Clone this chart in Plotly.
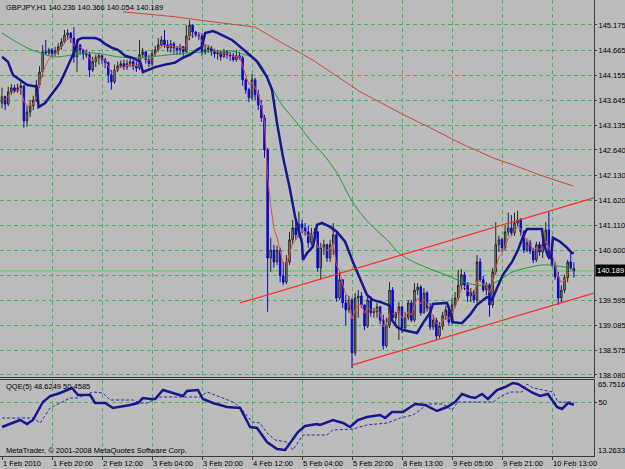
import plotly.graph_objects as go
import pandas as pd

# ---------------- data ----------------
symbol_title = "GBPJPY,H1 140.236 140.366 140.054 140.189"
first_open = 143.59
close = [143.72,143.57,143.82,143.90,143.84,143.90,143.94,143.23,143.41,143.53,
         143.65,143.96,144.22,144.63,144.61,144.67,144.59,144.65,144.73,144.83,
         144.97,145.01,144.91,144.53,144.77,144.67,144.59,144.57,144.26,144.43,
         144.51,144.55,144.47,144.41,144.16,144.02,144.26,144.34,144.39,144.32,
         144.39,144.43,144.34,144.30,144.57,144.63,144.47,144.39,144.59,144.67,
         144.77,144.87,144.77,144.71,144.79,144.71,144.67,144.73,144.63,144.95,
         145.17,145.03,144.97,144.95,144.63,144.67,144.71,144.65,144.59,144.61,
         144.53,144.63,144.57,144.55,144.47,144.55,144.51,144.06,143.86,143.70,
         144.06,143.76,143.55,143.29,142.64,140.45,140.61,140.37,140.61,140.09,
         139.96,140.37,140.82,141.06,140.92,141.14,141.06,140.98,140.76,140.94,
         140.98,140.25,140.66,140.72,140.45,140.72,140.92,139.64,140.01,139.54,
         139.40,139.60,138.53,139.64,139.68,139.50,139.07,139.60,139.34,139.36,
         139.46,139.19,138.67,139.09,139.80,139.24,139.34,139.46,139.03,139.24,
         139.54,139.19,139.80,139.86,139.34,139.74,139.44,139.05,139.19,138.87,
         139.07,139.28,139.40,139.15,139.50,139.64,139.90,140.11,139.90,139.68,
         139.76,139.60,140.37,140.01,139.80,139.90,139.50,140.17,140.72,140.82,
         140.66,140.98,141.06,140.96,141.16,141.22,140.98,140.61,140.76,140.59,
         140.41,140.72,140.57,140.72,141.02,140.45,140.31,140.07,139.64,139.80,
         140.05,140.37,140.236,140.189]
high = [143.90,143.74,143.92,143.98,143.96,143.98,144.02,143.94,143.53,143.65,
        143.74,144.06,144.34,144.77,144.87,144.71,144.71,144.73,144.81,144.91,
        145.07,145.09,145.03,145.13,144.87,144.79,144.69,144.67,144.63,144.53,
        144.57,144.61,144.57,144.51,144.43,144.26,144.37,144.43,144.45,144.47,
        144.47,144.51,144.47,144.43,144.87,144.71,144.65,144.57,144.67,144.75,
        144.91,144.95,145.07,144.87,144.87,144.83,144.75,144.79,144.75,145.17,
        145.27,145.19,145.05,145.03,145.01,144.79,144.77,144.75,144.69,144.67,
        144.65,144.69,144.65,144.63,144.61,144.67,144.63,144.55,144.10,143.90,
        144.18,144.10,143.86,143.65,143.35,142.68,140.86,140.72,140.70,140.66,
        140.37,140.51,140.98,141.22,141.18,141.39,141.22,141.16,141.10,141.06,
        141.06,141.00,140.76,140.82,140.74,140.82,141.16,140.98,140.17,140.01,
        139.70,139.68,139.64,139.74,139.80,139.76,139.50,139.68,139.68,139.44,
        139.54,139.48,139.30,139.24,139.96,139.86,139.36,139.56,139.48,139.36,
        139.60,139.60,139.94,139.94,139.90,139.84,139.78,139.54,139.30,139.24,
        139.15,139.36,139.48,139.48,139.64,139.76,140.21,140.23,140.17,139.96,
        139.84,139.80,140.51,140.45,140.09,139.96,139.94,140.25,141.18,140.90,
        140.86,141.10,141.37,141.32,141.37,141.41,141.26,141.02,140.84,140.82,
        140.66,140.78,140.78,140.82,141.18,141.39,140.57,140.37,140.17,139.90,
        140.11,140.41,140.57,140.366]
low = [143.49,143.45,143.53,143.76,143.80,143.80,143.76,143.09,143.11,143.31,
       143.45,143.61,143.90,144.12,144.57,144.55,144.53,144.55,144.57,144.67,
       144.79,144.87,144.81,144.41,144.22,144.57,144.47,144.51,144.12,144.22,
       144.32,144.37,144.39,144.30,144.00,143.86,143.98,144.22,144.30,144.26,
       144.26,144.32,144.26,144.22,144.26,144.51,144.39,144.32,144.34,144.53,
       144.63,144.73,144.71,144.63,144.61,144.59,144.57,144.57,144.55,144.61,
       144.87,144.91,144.93,144.87,144.55,144.57,144.61,144.55,144.51,144.47,
       144.45,144.51,144.49,144.45,144.43,144.43,144.47,143.94,143.78,143.61,
       143.65,143.65,143.45,143.21,142.48,139.36,140.17,140.25,140.31,139.96,
       139.90,139.92,140.31,140.72,140.82,140.86,140.96,140.90,140.66,140.70,
       140.82,140.17,140.01,140.51,140.37,140.37,140.51,139.56,139.60,139.44,
       139.09,139.34,138.22,138.47,139.24,139.44,138.99,139.03,139.26,139.24,
       139.24,139.11,138.59,138.63,139.03,139.15,139.07,138.79,138.93,138.99,
       139.19,139.15,139.15,139.70,139.28,139.32,139.36,138.99,138.99,138.79,
       138.83,138.99,139.19,139.09,139.11,139.44,139.60,139.80,139.80,139.56,
       139.56,139.54,139.54,139.96,139.76,139.70,139.26,139.44,140.11,140.57,
       140.57,140.61,140.90,140.90,140.90,141.10,140.90,140.55,140.57,140.53,
       140.35,140.37,140.49,140.45,140.66,140.41,140.27,140.01,139.50,139.54,
       139.74,139.96,140.21,140.054]
open_ = [first_open] + close[:-1]
bars = list(range(len(close)))

time_tick_bars = [0, 16, 32, 48, 64, 80, 96, 112, 128, 144, 160, 176]
time_tick_labels = ["1 Feb 2010", "1 Feb 20:00", "2 Feb 12:00", "3 Feb 04:00",
                    "3 Feb 20:00", "4 Feb 12:00", "5 Feb 04:00", "5 Feb 20:00",
                    "8 Feb 13:00", "9 Feb 05:00", "9 Feb 21:00", "10 Feb 13:00"]
grid_bars = time_tick_bars[1:]

price_ticks = [145.175, 144.665, 144.155, 143.645, 143.135, 142.640, 142.130,
               141.620, 141.110, 140.600, 140.105, 139.595, 139.085, 138.575, 138.080]
# the 140.105 label sits under the bid box in the reference, so it stays blank
price_tick_labels = ["145.175", "144.665", "144.155", "143.645", "143.135", "142.640",
                     "142.130", "141.620", "141.110", "140.600", "", "139.595",
                     "139.085", "138.575", "138.080"]
bid = 140.189

# thick blue smoothed line
blue_x = [0,1.9,3.5,5.8,8,11.2,11.7,13.8,15.4,17,18.6,20.2,21.8,23.4,24.3,25.6,29.8,31.4,
          33,35.2,37.1,39.4,41.6,44.2,45.1,46.7,49,52.2,55.4,57.9,60.2,62.4,64,65,65.9,
          67.5,69.1,71.4,73.6,75.5,77.8,80.3,81.6,84.8,86.4,88,89.9,92.2,93.8,94.7,96,
          96.3,97.6,99.5,100.8,102.4,105,107.2,109.8,112.3,114.6,116.8,118.7,121.9,124.2,
          124.8,126.4,128.3,132.8,134.7,137,137.9,142.4,143.4,144.3,147.2,149.8,152,155.2,
          156.8,158.4,160.3,163.2,165.1,166.7,168,172.8,173.4,174.7,175.7,176.3,178.6,
          180.8,182.4,183]
blue_y = [144.53,144.43,144.16,144.06,143.96,143.92,143.51,143.59,143.72,143.86,144.00,
          144.22,144.43,144.67,144.87,144.91,144.91,144.87,144.79,144.71,144.67,144.55,
          144.51,144.43,144.22,144.26,144.32,144.37,144.41,144.51,144.57,144.67,144.73,
          145.01,145.03,145.05,145.01,144.93,144.87,144.77,144.65,144.51,144.43,144.12,
          143.86,143.19,142.50,141.83,141.28,141.08,140.76,140.41,140.55,140.68,141.12,
          141.16,141.08,140.98,140.78,140.37,140.01,139.70,139.60,139.54,139.48,139.19,
          139.05,138.99,138.93,139.13,139.34,139.52,139.54,139.36,139.15,139.13,139.30,
          139.50,139.66,139.60,139.84,140.11,140.37,140.61,140.88,141.04,141.04,140.72,
          140.49,140.45,140.86,140.78,140.66,140.55,140.55]

# green moving average
green_x = [0,3.5,8,12.2,16.3,20.8,25.9,31.4,36.8,41,47.4,53.8,60.2,66.6,73,77.8,81,83.5,
           86.7,89.9,94.4,98.6,102.7,107.2,111.4,114.6,118.7,123.2,127.4,133.8,141.1,
           148.8,155.2,159.4,163.5,168,173.1,177.6,183]
green_y = [145.01,144.87,144.71,144.61,144.53,144.55,144.61,144.59,144.53,144.51,144.53,
           144.57,144.61,144.63,144.65,144.57,144.49,144.30,143.86,143.53,143.19,142.84,
           142.56,142.17,141.67,141.37,141.08,140.82,140.53,140.31,140.13,139.94,139.90,
           140.01,140.17,140.25,140.31,140.29,140.23]

# slow (dark red) moving average
slow_x = [38.7,55.4,65.9,81,88,99.5,114.6,127.4,137,146.6,157.1,163.5,172.2,178.6,182.7]
slow_y = [145.44,145.34,145.25,145.13,144.87,144.46,143.82,143.39,143.09,142.78,142.48,
          142.34,142.13,141.99,141.91]

# trend channel anchor points
upper_x = [76.2, 189.4]
upper_y = [139.54, 141.67]
lower_x = [112.0, 189.4]
lower_y = [138.28, 139.74]

# QQE(5) sub window
qqe_x = [0,3.5,5.8,8,9.9,13.1,15.4,18.6,20.8,22.4,24.3,28.2,29.8,33,35.5,37.8,41,43.5,
         45.1,47.4,49,51.5,54.7,57.9,59.2,62.7,64.3,67.5,72,76.2,79.4,81.6,84.8,88,90.6,
         92.2,94.7,97,100.8,101.8,105.9,109.1,111.4,113.9,116.8,121,122.6,124.8,128.3,
         132.2,135.4,139.2,142.4,145,147.2,149.8,151.4,153.6,155.5,158.4,161,163.5,165.1,
         168.3,169.9,172.2,174.7,177.6,179.2,181.1,183]
qqe_y = [33.29,36.05,38.13,35.36,38.13,50.56,54.70,56.77,58.84,60.23,55.39,55.39,49.87,
         49.87,46.41,47.10,48.49,49.87,53.32,52.63,52.63,58.84,56.77,54.70,58.15,58.84,
         52.63,49.87,47.10,46.41,33.29,32.60,22.93,18.10,17.41,22.24,29.84,33.98,35.36,
         34.67,38.13,36.05,33.29,38.13,40.20,41.58,39.51,43.65,43.65,49.18,48.49,44.34,
         47.10,50.56,56.08,54.01,53.32,56.08,52.63,58.84,60.92,63.68,62.99,58.84,56.77,
         54.70,56.08,47.10,45.72,49.87,48.62]
qqe_sig_x = [0,9.9,12.2,15.4,18.6,21.8,24,26.6,29.1,32.3,34.6,41.9,44.2,46.4,48.3,50.6,
             63.4,65.6,69.8,73.9,76.2,80,82.6,84.8,87.4,91.2,93.1,96.3,100.8,104,105.9,
             112.3,116.8,123.2,127.4,131.5,133.8,136,141.1,144,145.9,157.1,159.4,162.6,
             166.4,168,169.9,173.8,176.3,177.9,183]
qqe_sig_y = [39.51,39.51,36.05,46.41,49.87,53.32,53.32,55.39,57.46,56.77,51.94,51.94,49.87,
             49.87,51.94,54.01,54.01,57.46,54.01,50.56,47.10,36.75,36.05,29.15,24.31,22.93,
             17.41,27.77,27.77,27.77,31.22,31.91,34.67,36.05,39.51,41.58,45.03,49.18,49.18,
             45.03,50.56,50.56,54.01,57.46,57.46,62.99,60.23,58.84,57.46,50.56,50.46]
qqe_label = "QQE(5) 48.6249 50.4585"
qqe_max_label, qqe_level_label, qqe_min_label = "65.7516", "50", "13.2633"
copyright_text = "MetaTrader, \u00a9 2001-2008 MetaQuotes Software Corp."

# ---------------- styling ----------------
W, H = 625, 469
PLOT_W = 594
BG = "#bcbcbc"
GRID = "#3cba5a"
GDASH = "4px,3px"
AXC = "#3a3a3a"
FONT = "Liberation Sans, Arial, sans-serif"
FS = 7.5

fast_ma = pd.Series(close).ewm(span=4, adjust=False).mean().tolist()

fig = go.Figure()
fig.add_trace(go.Candlestick(
    x=bars, open=open_, high=high, low=low, close=close,
    xaxis="x", yaxis="y", whiskerwidth=0, hoverinfo="skip",
    increasing=dict(line=dict(color="#262626", width=1), fillcolor="#9c9c9c"),
    decreasing=dict(line=dict(color="#0a0acc", width=1), fillcolor="#0a0acc"),
))
fig.add_trace(go.Scatter(x=slow_x, y=slow_y, mode="lines", xaxis="x", yaxis="y",
                         line=dict(color="#d0423c", width=1), hoverinfo="skip"))
fig.add_trace(go.Scatter(x=green_x, y=green_y, mode="lines", xaxis="x", yaxis="y",
                         line=dict(color="#1f9a34", width=1, shape="spline"), hoverinfo="skip"))
fig.add_trace(go.Scatter(x=bars, y=fast_ma, mode="lines", xaxis="x", yaxis="y",
                         line=dict(color="#e2513f", width=1), hoverinfo="skip"))
fig.add_trace(go.Scatter(x=blue_x, y=blue_y, mode="lines", xaxis="x", yaxis="y",
                         line=dict(color="#16168e", width=2.5), hoverinfo="skip"))
fig.add_trace(go.Scatter(x=upper_x, y=upper_y, mode="lines", xaxis="x", yaxis="y",
                         line=dict(color="#ff2a2a", width=1.2), hoverinfo="skip"))
fig.add_trace(go.Scatter(x=lower_x, y=lower_y, mode="lines", xaxis="x", yaxis="y",
                         line=dict(color="#ff2a2a", width=1.2), hoverinfo="skip"))
fig.add_trace(go.Scatter(x=qqe_sig_x, y=qqe_sig_y, mode="lines", xaxis="x2", yaxis="y2",
                         line=dict(color="#2a2aa8", width=1, dash="3px,2px"), hoverinfo="skip"))
fig.add_trace(go.Scatter(x=qqe_x, y=qqe_y, mode="lines", xaxis="x2", yaxis="y2",
                         line=dict(color="#16168e", width=2.5), hoverinfo="skip"))

fig.add_shape(type="line", xref="x domain", yref="y", x0=0, x1=1, y0=bid, y1=bid,
              line=dict(color="#4fd04f", width=1), layer="below")

xr = [-0.64, 189.44]
main_dom = [1 - 377 / H, 1]
sub_dom = [1 - 456 / H, 1 - 380 / H]

fig.update_layout(
    width=W, height=H, margin=dict(l=0, r=W - PLOT_W, t=0, b=0, autoexpand=False),
    paper_bgcolor=BG, plot_bgcolor=BG, showlegend=False,
    font=dict(family=FONT, size=FS, color="#000000"),
    xaxis=dict(domain=[0, 1], range=xr, anchor="y", showticklabels=False,
               tickmode="array", tickvals=grid_bars, ticks="", automargin=False,
               showgrid=True, gridcolor=GRID, griddash=GDASH, gridwidth=1,
               zeroline=False, showline=True, linecolor=AXC, linewidth=1,
               rangeslider=dict(visible=False)),
    yaxis=dict(domain=main_dom, range=[138.038, 145.68], anchor="x", side="right",
               tickmode="array", tickvals=price_ticks, ticktext=price_tick_labels,
               ticks="outside", ticklen=2, tickcolor=AXC, tickfont=dict(size=FS),
               ticklabelstandoff=0, automargin=False,
               showgrid=True, gridcolor=GRID, griddash=GDASH, gridwidth=1,
               zeroline=False, showline=True, linecolor=AXC, linewidth=1),
    xaxis2=dict(domain=[0, 1], range=xr, anchor="y2",
                tickmode="array", tickvals=time_tick_bars, ticktext=time_tick_labels,
                ticklabelposition="outside right", tickangle=0, automargin=False,
                ticks="outside", ticklen=3,
                tickcolor=AXC, tickfont=dict(size=FS), showgrid=False,
                minor=dict(tickmode="array", tickvals=grid_bars, showgrid=True,
                           gridcolor=GRID, griddash=GDASH, gridwidth=1),
                zeroline=False, showline=True, mirror=True, linecolor=AXC, linewidth=1),
    yaxis2=dict(domain=sub_dom, range=[13.2633, 65.7516], anchor="x2", side="right",
                tickmode="array", tickvals=[50], ticktext=[qqe_level_label],
                ticks="outside", ticklen=2, tickcolor=AXC, tickfont=dict(size=FS),
                ticklabelstandoff=0, automargin=False,
                showgrid=True, gridcolor=GRID, griddash=GDASH, gridwidth=1,
                zeroline=False, showline=True, linecolor=AXC, linewidth=1),
)

def px_x(p):
    return p / PLOT_W

def px_y(p):
    return 1 - p / H

ann = [
    dict(text=symbol_title, x=px_x(4), y=px_y(7)),
    dict(text=qqe_label, x=px_x(4), y=px_y(386)),
    dict(text=copyright_text, x=px_x(4), y=px_y(450)),
    dict(text=qqe_max_label, x=px_x(596), y=px_y(384)),
    dict(text=qqe_min_label, x=px_x(596), y=px_y(450)),
]
for a in ann:
    fig.add_annotation(xref="paper", yref="paper", xanchor="left", yanchor="middle",
                       showarrow=False, font=dict(size=FS, color="#000000"), **a)
fig.add_annotation(text=f"{bid:.3f}", xref="paper", yref="y", x=px_x(595), y=bid,
                   xanchor="left", yanchor="middle", showarrow=False,
                   bgcolor="#000000", font=dict(size=FS, color="#ffffff"), borderpad=1)

fig.write_html("out.html")
